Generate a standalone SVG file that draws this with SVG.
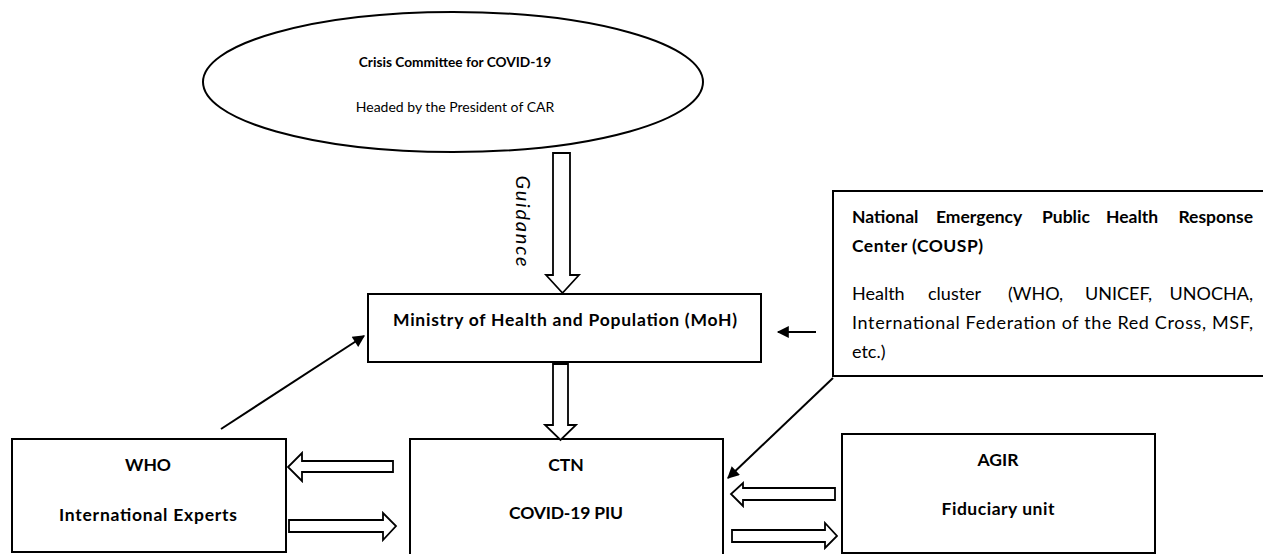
<svg xmlns="http://www.w3.org/2000/svg" width="1263" height="554" viewBox="0 0 1263 554">
<style>
.box{fill:#fff;stroke:#000;stroke-width:2}
.ha{fill:#fff;stroke:#000;stroke-width:1.8;stroke-linejoin:miter}
.ln{stroke:#000;stroke-width:2;fill:none}
text{font-family:Lato,"Open Sans","Liberation Sans",sans-serif;fill:#000}
.b{font-weight:bold;font-size:17.5px}
.r{font-size:18px}
.c{text-anchor:middle}
</style>
<defs>
<marker id="ah" viewBox="0 0 10 10" refX="9" refY="5" markerWidth="13" markerHeight="12" markerUnits="userSpaceOnUse" orient="auto">
<path d="M0,0 L10,5 L0,10 Z" fill="#000"/>
</marker>
</defs>
<rect width="1263" height="554" fill="#fff"/>

<g id="crisis">
<ellipse class="box" cx="453" cy="82" rx="250" ry="70"/>
<text class="b c" x="455" y="67" style="font-size:13.7px">Crisis Committee for COVID-19</text>
<text class="r c" x="455" y="112" style="font-size:14px">Headed by the President of CAR</text>
</g>

<g id="moh">
<rect class="box" x="368" y="294" width="393" height="68"/>
<text class="b c" x="565" y="326" textLength="344" lengthAdjust="spacing">Ministry of Health and Population (MoH)</text>
</g>

<g id="cousp">
<rect class="box" x="833" y="191" width="440" height="185"/>
<text class="b" y="223"><tspan x="852">National</tspan><tspan x="936">Emergency</tspan><tspan x="1042">Public</tspan><tspan x="1106">Health</tspan><tspan x="1253" text-anchor="end">Response</tspan></text>
<text class="b" x="852" y="252" textLength="131" lengthAdjust="spacing">Center (COUSP)</text>
<text class="r" y="300"><tspan x="852">Health</tspan><tspan x="928">cluster</tspan><tspan x="1008">(WHO,</tspan><tspan x="1085">UNICEF,</tspan><tspan x="1253" text-anchor="end">UNOCHA,</tspan></text>
<text class="r" x="852" y="329" textLength="401" lengthAdjust="spacing">International Federation of the Red Cross, MSF,</text>
<text class="r" x="852" y="358">etc.)</text>
</g>

<g id="who">
<rect class="box" x="12" y="439" width="274" height="113"/>
<text class="b c" x="148" y="471">WHO</text>
<text class="b c" x="148" y="521" textLength="178" lengthAdjust="spacing">International Experts</text>
</g>

<g id="ctn">
<rect class="box" x="410" y="439" width="313" height="125"/>
<text class="b c" x="566" y="471">CTN</text>
<text class="b c" x="566" y="519" textLength="114" lengthAdjust="spacing">COVID-19 PIU</text>
</g>

<g id="agir">
<rect class="box" x="842" y="434" width="313" height="119"/>
<text class="b c" x="998" y="466">AGIR</text>
<text class="b c" x="998" y="515" textLength="113" lengthAdjust="spacing">Fiduciary unit</text>
</g>

<g id="connectors">
<path class="ha" d="M553,153 L570,153 L570,275 L579,275 L562.5,293 L546,275 L553,275 Z"/>
<text transform="translate(516,221) rotate(90)" class="c" style="font-size:20px;font-style:italic" textLength="91" lengthAdjust="spacing">Guidance</text>
<path class="ha" d="M553,364 L568,364 L568,425 L576,425 L560.5,440 L545,425 L553,425 Z"/>
<path class="ha" d="M393,461 L302,461 L302,453 L288,467 L302,481 L302,472 L393,472 Z"/>
<path class="ha" d="M289,520 L383,520 L383,513 L396,526 L383,540 L383,532 L289,532 Z"/>
<path class="ha" d="M835,488 L743,488 L743,483 L731,494 L743,506 L743,500 L835,500 Z"/>
<path class="ha" d="M732,530 L825,530 L825,523 L837,536 L825,548 L825,542 L732,542 Z"/>
<line class="ln" x1="221" y1="429" x2="364" y2="336" marker-end="url(#ah)"/>
<line class="ln" x1="816" y1="332" x2="778" y2="332" marker-end="url(#ah)"/>
<line class="ln" x1="833" y1="378" x2="728" y2="478" marker-end="url(#ah)"/>
</g>
</svg>
